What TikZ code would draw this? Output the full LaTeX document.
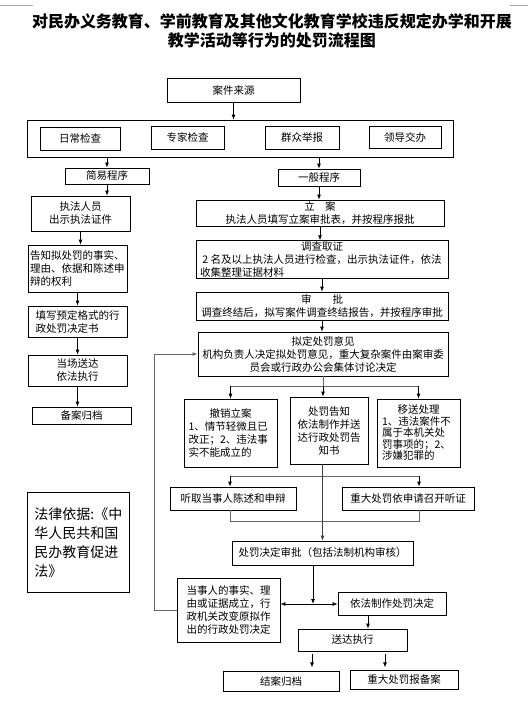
\documentclass[tikz,border=0pt]{standalone}
\usepackage{fontspec}
\setmainfont{Noto Sans CJK SC}
\usetikzlibrary{arrows.meta}

\begin{document}
\begin{tikzpicture}[x=1pt, y=-1pt, font=\fontsize{10.5}{13}\selectfont,
    box/.style={draw, line width=0.8pt, inner sep=1pt},
    arr/.style={-{Latex[length=5pt,width=4pt]}, line width=0.8pt},
    gline/.style={draw=black!60, line width=1pt}]
  \useasboundingbox (0,0) rectangle (528,713);
  \draw[black!35] (0,5) -- (33,5); \draw[black!35] (510,5) -- (528,5);
  \node[font=\fontsize{16}{19}\selectfont\bfseries, align=center] (title) at (272,31)
    {对民办义务教育、学前教育及其他文化教育学校违反规定办学和开展\\教学活动等行为的处罚流程图};

  % sources
  \node[box, minimum width=133, minimum height=24] (src) at (233.5,90) {案件来源};
  \node[box, minimum width=426, minimum height=37] (all) at (240,138.5) {};
  \node[box, minimum width=80, minimum height=23] (rc) at (80,138.5) {日常检查};
  \node[box, minimum width=73, minimum height=23] (zj) at (187.5,137.5) {专家检查};
  \node[box, minimum width=74, minimum height=23] (qz) at (302,137.5) {群众举报};
  \node[box, minimum width=72, minimum height=22] (ld) at (405,137) {领导交办};
  \draw[arr] (src.south) -- (src.south |- all.north);

  % simple procedure
  \node[box, minimum width=84, minimum height=16] (jy) at (107,176) {简易程序};
  \node[box, minimum width=99, minimum height=35, align=center] (zf) at (80.5,213.5) {执法人员\\出示执法证件};
  \node[box, minimum width=99, minimum height=47, align=left] (gz) at (77.5,268.5) {告知拟处罚的事实、\\理由、依据和陈述申\\辩的权利};
  \node[box, minimum width=99, minimum height=31, align=left] (tx) at (77.5,321.5) {填写预定格式的行\\政处罚决定书};
  \node[box, minimum width=99, minimum height=31, align=center] (dc) at (77.5,370.5) {当场送达\\依法执行};
  \node[box, minimum width=99, minimum height=17] (ba) at (81.5,415.5) {备案归档};
  \draw[arr] (all.south -| jy.north) -- (jy.north);
  \draw[arr] (jy.south) -- (jy.south |- zf.north);
  \draw[arr] (zf.south) -- (zf.south |- gz.north);
  \draw[arr] (gz.south) -- (tx.north);
  \draw[arr] (tx.south) -- (dc.north);
  \draw[arr] (dc.south) -- (dc.south |- ba.north);

  % general procedure
  \node[box, minimum width=82, minimum height=17] (yb) at (319,177.5) {一般程序};
  \node[box, minimum width=248, minimum height=26, align=center] (la) at (320,213) {立\quad 案\\执法人员填写立案审批表，并按程序报批};
  \node[box, minimum width=252, minimum height=37, align=center] (dq) at (322,259.5)
    {调查取证\\2\ 名及以上执法人员进行检查，出示执法证件，依法\\\makebox[244pt][l]{收集整理证据材料}};
  \node[box, minimum width=252, minimum height=28, align=center] (sp) at (322,306) {审\qquad 批\\调查终结后，拟写案件调查终结报告，并按程序审批};
  \node[box, minimum width=250, minimum height=44, align=center] (ny) at (323,354)
    {拟定处罚意见\\机构负责人决定拟处罚意见，重大复杂案件由案审委\\员会或行政办公会集体讨论决定};
  \draw[arr] (all.south -| yb.north) -- (yb.north);
  \draw[arr] (yb.south) -- (yb.south |- la.north);
  \draw[arr] (la.south) -- (la.south |- dq.north);
  \draw[arr] (dq.south) -- (sp.north);
  \draw[arr] (sp.south) -- (sp.south |- ny.north);

  \node[box, minimum width=93, minimum height=68, align=left] (cx) at (230.5,433)
    {\makebox[84pt]{撤销立案}\\1、情节轻微且已\\改正；2、违法事\\实不能成立的};
  \node[box, minimum width=78, minimum height=67, align=center] (gzs) at (329,430.5)
    {处罚告知\\依法制作并送\\达行政处罚告\\知书};
  \node[box, minimum width=83, minimum height=68, align=left, font=\fontsize{10.5}{11.5}\selectfont] (ys) at (418.5,433)
    {\makebox[73pt]{移送处理}\\1、违法案件不\\属于本机关处\\罚事项的；2、\\涉嫌犯罪的};
  \coordinate (fk) at (323,386);
  \draw[gline] (ny.south) -- (fk);
  \draw[gline] (cx.north |- fk) -- (ys.north |- fk);
  \draw[arr] (cx.north |- fk) -- (cx.north);
  \draw[arr] (fk) -- (fk |- gzs.north);
  \draw[arr] (ys.north |- fk) -- (ys.north);

  \node[box, minimum width=126, minimum height=23] (tq) at (233,498.5) {听取当事人陈述和申辩};
  \node[box, minimum width=132, minimum height=23] (zd) at (408,498.5) {重大处罚依申请召开听证};
  \node[box, minimum width=181, minimum height=24] (spjd) at (322.5,553) {处罚决定审批（包括法制机构审核）};
  \coordinate (hl) at (230,476); \coordinate (hr) at (419,476);
  \draw[gline] (hl) -- (hr);
  \draw[arr] (hl) -- (hl |- tq.north);
  \draw[arr] (hr) -- (hr |- zd.north);
  \draw[gline] (hl |- tq.south) -- (230,521) -- (419,521) -- (hr |- zd.south);
  \draw[arr, draw=black!75] (gzs.south -| spjd.north) -- (spjd.north);

  % decision
  \node[box, minimum width=103, minimum height=64, align=left] (dsr) at (228.5,610)
    {当事人的事实、理\\由或证据成立，行\\政机关改变原拟作\\出的行政处罚决定};
  \node[box, minimum width=108, minimum height=23] (yf) at (392,603.5) {依法制作处罚决定};
  \node[box, minimum width=109, minimum height=22] (sd) at (352.5,640) {送达执行};
  \node[box, minimum width=116, minimum height=20] (ja) at (281,681) {结案归档};
  \node[box, minimum width=108, minimum height=19] (bb) at (404,679.5) {重大处罚报备案};
  \coordinate (jc) at (313,604);
  \draw[arr] (spjd.south -| jc) -- (jc);
  \draw[{Latex[length=5pt,width=4pt]}-{Latex[length=5pt,width=4pt]}, line width=0.8pt] (dsr.east |- jc) -- (yf.west |- jc);
  \draw[arr] ([xshift=-24pt]yf.south) -- ([xshift=-24pt]yf.south |- sd.north);
  \draw[arr] ([xshift=-40.5pt,yshift=-3pt]sd.south) -- ++(0,13);
  \draw[arr] ([xshift=32.5pt,yshift=-3pt]sd.south) -- ++(0,13);
  \draw[gline, -{Latex[length=5pt,width=4pt]}] (dsr.west) -- (154,610) -- (154,354) -- (ny.west);

  % legal basis
  \node[box, minimum width=102, minimum height=100, align=left, anchor=north west, inner sep=5pt,
    font=\fontsize{14}{19}\selectfont] (law) at (27,492) {法律依据:《中\\华人民共和国\\民办教育促进\\法》};
\end{tikzpicture}
\end{document}
